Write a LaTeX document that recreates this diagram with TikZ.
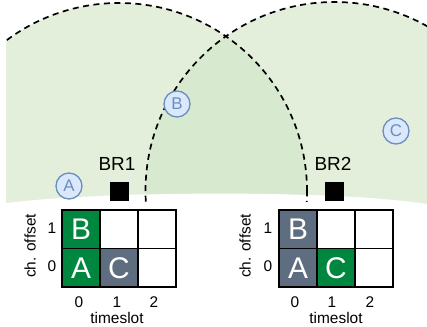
\documentclass[tikz,border=0pt]{standalone}
\usepackage{fontspec}
\setmainfont{Liberation Sans}
\definecolor{bg}{HTML}{E3EFDA}
\definecolor{ov}{HTML}{D7E9CE}
\definecolor{cg}{HTML}{00873F}
\definecolor{cs}{HTML}{5E6D7F}
\definecolor{nf}{HTML}{DAE8FC}
\definecolor{nd}{HTML}{6C8EBF}
\begin{document}
\begin{tikzpicture}[x=1bp,y=-1bp,
  cell/.style={draw=black, line width=1.5bp, minimum width=38bp, minimum height=38.5bp, inner sep=0pt, text=white, font=\fontsize{30}{30}\selectfont},
  gcell/.style={cell, fill=cg},
  scell/.style={cell, fill=cs},
  wcell/.style={cell, fill=white},
  dev/.style={circle, draw=nd, fill=nf, line width=1.3bp, minimum size=26bp, inner sep=0pt, text=nd, font=\fontsize{17}{17}\selectfont},
  br/.style={fill=black, minimum size=19bp, inner sep=0pt},
  lab/.style={font=\fontsize{19}{19}\selectfont},
  ax/.style={font=\fontsize{15.5}{15.5}\selectfont, inner sep=0pt},
  rangeline/.style={dash pattern=on 6bp off 4.5bp, line width=1.7bp}]
\useasboundingbox (0,0) rectangle (427,327);
\coordinate (c1) at (119,191);
\coordinate (c2) at (334.5,191);
\begin{scope}
  \clip (6,0) -- (427,0) -- (427,204) .. controls (330,189) and (100,191) .. (6,203) -- cycle;
  \fill[bg] (c1) circle (188bp);
  \fill[bg] (c2) circle (189bp);
  \begin{scope}
    \clip (c1) circle (188bp);
    \fill[ov] (c2) circle (189bp);
  \end{scope}
\end{scope}
\begin{scope}
  \clip (6,0) rectangle (427,201);
  \draw[rangeline] (c1) circle (188bp);
  \draw[rangeline] (c2) circle (189bp);
\end{scope}
% devices
\node[dev] (A) at (69,186) {A};
\node[dev] (B) at (177,104) {B};
\node[dev] (C) at (396,131) {C};
% border routers
\node[br] (br1) at (119,191) {};
\node[br] (br2) at (334.5,191) {};
\node[lab] (l1) at (117,164) {BR1};
\node[lab] (l2) at (333,164) {BR2};
% left table
\node[wcell] (L11) at (119,229.25) {};
\node[wcell] (L21) at (157,229.25) {};
\node[wcell] (L20) at (157,267.75) {};
\node[gcell] (L01) at (81,229.25) {B};
\node[gcell] (L00) at (81,267.75) {A};
\node[scell] (L10) at (119,267.75) {C};
% right table
\node[wcell] (R11) at (336,229.25) {};
\node[wcell] (R21) at (374,229.25) {};
\node[wcell] (R20) at (374,267.75) {};
\node[scell] (R01) at (298,229.25) {B};
\node[scell] (R00) at (298,267.75) {A};
\node[gcell] (R10) at (336,267.75) {C};
% axes left
\node[ax] (ly1) at (52,228) {1};
\node[ax] (ly0) at (52,266) {0};
\node[ax] (lx0) at (79,302) {0};
\node[ax] (lx1) at (117,302) {1};
\node[ax] (lx2) at (154,302) {2};
\node[ax] (lt) at (117,318) {timeslot};
\node[ax, rotate=90] (lo) at (30,246) {ch. offset};
% axes right
\node[ax] (ry1) at (268,228) {1};
\node[ax] (ry0) at (268,266) {0};
\node[ax] (rx0) at (295,302) {0};
\node[ax] (rx1) at (332,302) {1};
\node[ax] (rx2) at (370,302) {2};
\node[ax] (rt) at (336,318) {timeslot};
\node[ax, rotate=90] (ro) at (245,246) {ch. offset};
\end{tikzpicture}
\end{document}
